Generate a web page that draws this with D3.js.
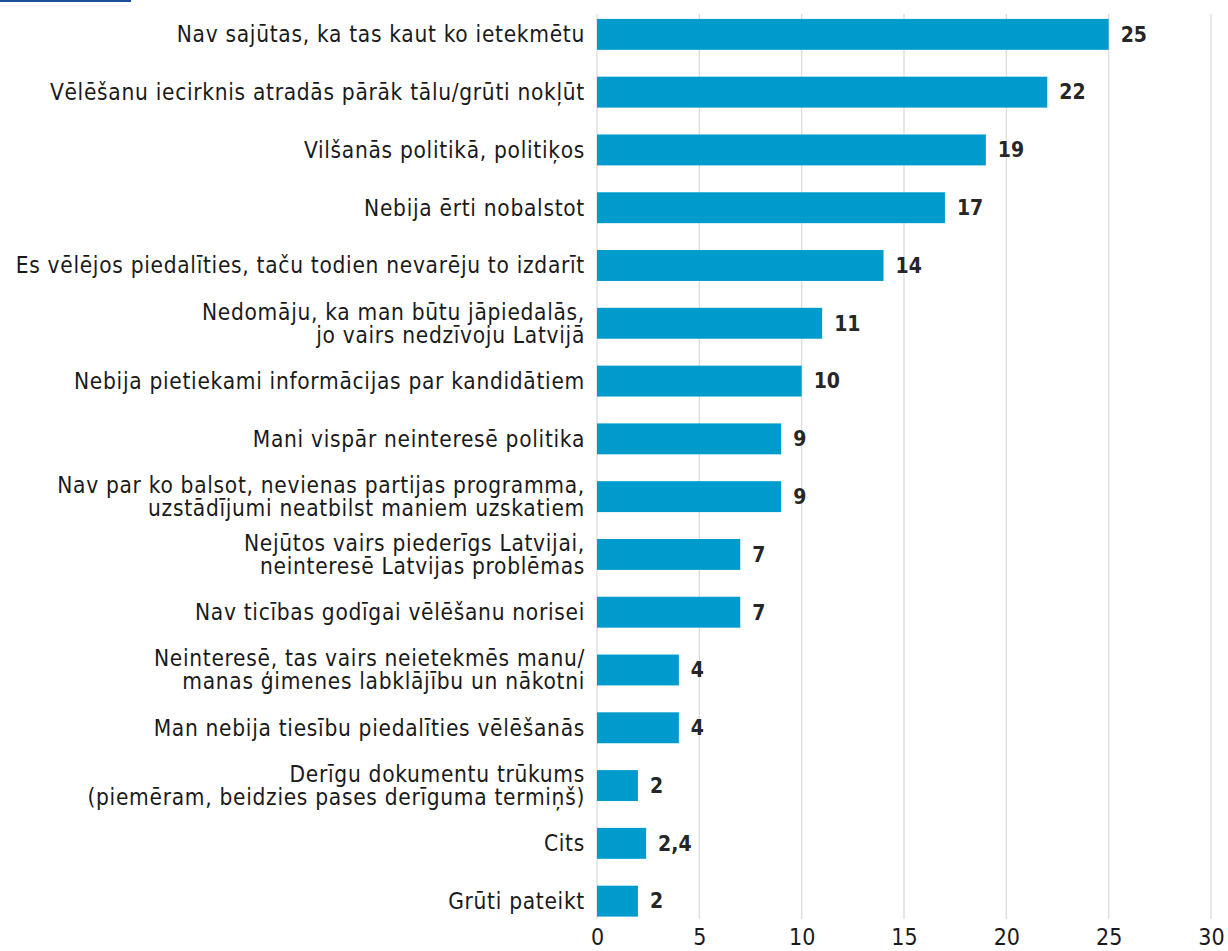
<!DOCTYPE html>
<html><head><meta charset="utf-8">
<script src="https://cdn.jsdelivr.net/npm/d3@7"></script>
<style>
html,body{margin:0;padding:0;background:#fff;}
svg{display:block;}
text{font-family:"DejaVu Sans Condensed","DejaVu Sans",sans-serif;}
</style></head>
<body><svg id="c" width="1228" height="951"></svg>
<script>
const categories = [
  ["Nav sajūtas, ka tas kaut ko ietekmētu"],
  ["Vēlēšanu iecirknis atradās pārāk tālu/grūti nokļūt"],
  ["Vilšanās politikā, politiķos"],
  ["Nebija ērti nobalstot"],
  ["Es vēlējos piedalīties, taču todien nevarēju to izdarīt"],
  ["Nedomāju, ka man būtu jāpiedalās,", "jo vairs nedzīvoju Latvijā"],
  ["Nebija pietiekami informācijas par kandidātiem"],
  ["Mani vispār neinteresē politika"],
  ["Nav par ko balsot, nevienas partijas programma,", "uzstādījumi neatbilst maniem uzskatiem"],
  ["Nejūtos vairs piederīgs Latvijai,", "neinteresē Latvijas problēmas"],
  ["Nav ticības godīgai vēlēšanu norisei"],
  ["Neinteresē, tas vairs neietekmēs manu/", "manas ģimenes labklājību un nākotni"],
  ["Man nebija tiesību piedalīties vēlēšanās"],
  ["Derīgu dokumentu trūkums", "(piemēram, beidzies pases derīguma termiņš)"],
  ["Cits"],
  ["Grūti pateikt"]
];
const values = [25, 22, 19, 17, 14, 11, 10, 9, 9, 7, 7, 4, 4, 2, 2.4, 2];
const valueLabels = ["25","22","19","17","14","11","10","9","9","7","7","4","4","2","2,4","2"];
const xTicks = [0, 5, 10, 15, 20, 25, 30];

const svg = d3.select("#c");
const x = d3.scaleLinear().domain([0, 30]).range([597, 1211]);
const y = d3.scaleBand().domain(d3.range(categories.length)).range([5.5, 930]).paddingInner(0.465).paddingOuter(0.232);

// top-left accent line
svg.append("rect").attr("x", 0).attr("y", 0).attr("width", 131).attr("height", 2).attr("fill", "#1f4e99");

// gridlines
svg.append("g").selectAll("line").data(xTicks).join("line")
  .attr("x1", d => x(d)).attr("x2", d => x(d))
  .attr("y1", 14).attr("y2", 919)
  .attr("stroke", "#dcdcdc").attr("stroke-width", 1.3);

// bars
svg.append("g").selectAll("rect").data(values).join("rect")
  .attr("x", x(0)).attr("y", (d, i) => y(i))
  .attr("width", d => x(d) - x(0)).attr("height", y.bandwidth())
  .attr("fill", "#009bcd");

// value labels
svg.append("g").selectAll("text").data(values).join("text")
  .attr("x", d => x(d) + 12).attr("y", (d, i) => y(i) + y.bandwidth() / 2)
  .attr("dy", "0.35em").attr("font-size", 21).attr("font-weight", "bold")
  .attr("fill", "#262626").text((d, i) => valueLabels[i]);

// category labels (one text element per line)
const lineGap = 23;
const rows = [];
categories.forEach((d, i) => {
  const n = d.length;
  d.forEach((line, k) => rows.push({ i, line, off: (k - (n - 1) / 2) * lineGap }));
});
svg.append("g").selectAll("text").data(rows).join("text")
  .attr("text-anchor", "end").attr("font-size", 22.5).attr("letter-spacing", 0.7)
  .attr("fill", "#1a1a1a")
  .attr("x", 585)
  .attr("y", d => y(d.i) + y.bandwidth() / 2 + d.off)
  .attr("dy", "0.35em")
  .text(d => d.line);

// x axis tick labels
const ax = svg.append("g").attr("transform", "translate(0,924)")
  .call(d3.axisBottom(x).tickValues(xTicks).tickSize(0).tickPadding(5).tickFormat(d3.format("d")));
ax.select(".domain").remove();
ax.selectAll("text").attr("font-size", 23).attr("fill", "#1a1a1a")
  .style("font-family", '"DejaVu Sans Condensed","DejaVu Sans",sans-serif');
</script>
</body></html>
